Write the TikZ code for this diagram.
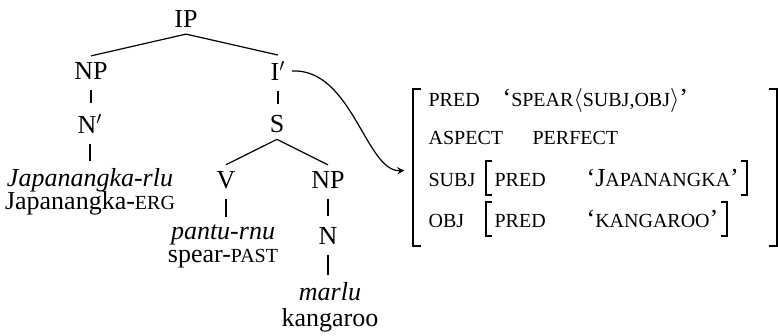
\documentclass[tikz,border=0pt]{standalone}
\usepackage{fontspec}
\setmainfont{Liberation Serif}
\usetikzlibrary{positioning}

% fake small capitals (Liberation Serif has none)
\newcommand{\fsc}[1]{{\fontsize{10}{12}\selectfont #1}}
% square brackets round an f-structure node
\newcommand{\avmbrackets}[2]{%
  \draw[brk] ([xshift=#2]#1.north west) -| (#1.south west) -- ++(#2,0);
  \draw[brk] ([xshift=-#2]#1.north east) -| (#1.south east) -- ++(-#2,0);}

\begin{document}
\begin{tikzpicture}[x=0.5pt,y=-0.5pt,>=stealth,line width=0.6pt,
  cat/.style={inner sep=3pt,font=\fontsize{13}{15}\selectfont},
  lex/.style={inner sep=1pt,font=\fontsize{13}{15}\selectfont\itshape},
  gloss/.style={inner sep=1pt,font=\fontsize{13}{15}\selectfont},
  bar/.style={shorten <=2pt,shorten >=2.5pt},
  attr/.style={anchor=base west,inner sep=0pt,font=\fontsize{13}{15}\selectfont},
  fsin/.style={anchor=west,inner xsep=4pt,inner ysep=0pt,minimum height=16.5pt,
    font=\fontsize{13}{15}\selectfont},
  brk/.style={line width=1pt}]
  \useasboundingbox (0,0) rectangle (778,336);

  % c-structure
  \node[cat] (ip) at (186,19) {IP};
  \node[cat] (np) at (91,71) {NP};
  \node[cat] (ibar) at (278,71) {I$'$};
  \node[cat] (nbar) at (90,124) {N$'$};
  \node[cat] (s) at (277,124) {S};
  \node[cat] (v) at (226,180) {V};
  \node[cat] (npo) at (328,180) {NP};
  \node[cat] (n) at (328,236) {N};
  \node[lex] (japrlu) at (90,180) {Japanangka-rlu};
  \node[gloss] (japerg) at (90,203) {Japanangka-\fsc{ERG}};
  \node[lex] (pantu) at (223,235) {pantu-rnu};
  \node[gloss] (spear) at (223,259) {spear-\fsc{PAST}};
  \node[lex] (marlu) at (330,292) {marlu};
  \node[gloss] (kang) at (330,320) {kangaroo};

  \draw (ip.south) -- (np.north);
  \draw (ip.south) -- (ibar.north);
  \draw (s.south) -- (v.north);
  \draw (s.south) -- (npo.north);
  \draw[bar] (np.south) -- (np.south |- nbar.north);
  \draw[bar] (nbar.south) -- (nbar.south |- japrlu.north);
  \draw[bar] (ibar.south) -- (ibar.south |- s.north);
  \draw[bar] (v.south) -- (v.south |- pantu.north);
  \draw[bar] (npo.south) -- (npo.south |- n.north);
  \draw[bar] (n.south) -- (n.south |- marlu.north);

  % f-structure
  \node[minimum width=181pt,minimum height=77.5pt,inner sep=0pt] (avm) at (595,167.5) {};
  \avmbrackets{avm}{4pt}
  \node[attr] (apred) at (428,107) {\fsc{PRED}};
  \node[attr] (vpred) at (502,107) {‘\fsc{SPEAR}$\langle$\fsc{SUBJ,OBJ}$\rangle$’};
  \node[attr] (aasp) at (428,145) {\fsc{ASPECT}};
  \node[attr] (vasp) at (532,145) {\fsc{PERFECT}};
  \node[attr] (asubj) at (428,186.5) {\fsc{SUBJ}};
  \node[attr] (aobj) at (428,227.5) {\fsc{OBJ}};
  \node[fsin] (fsubj) at (486,178)
    {\makebox[46pt][l]{\fsc{PRED}}‘J\fsc{APANANGKA}’};
  \node[fsin] (fobj) at (486,219)
    {\makebox[46pt][l]{\fsc{PRED}}‘\fsc{KANGAROO}’};
  \avmbrackets{fsubj}{3pt}
  \avmbrackets{fobj}{3pt}

  \draw[->] (ibar.east) .. controls (352,68) and (366,172) .. ([xshift=-4.5pt,yshift=-1.5pt]avm.west);
\end{tikzpicture}
\end{document}
